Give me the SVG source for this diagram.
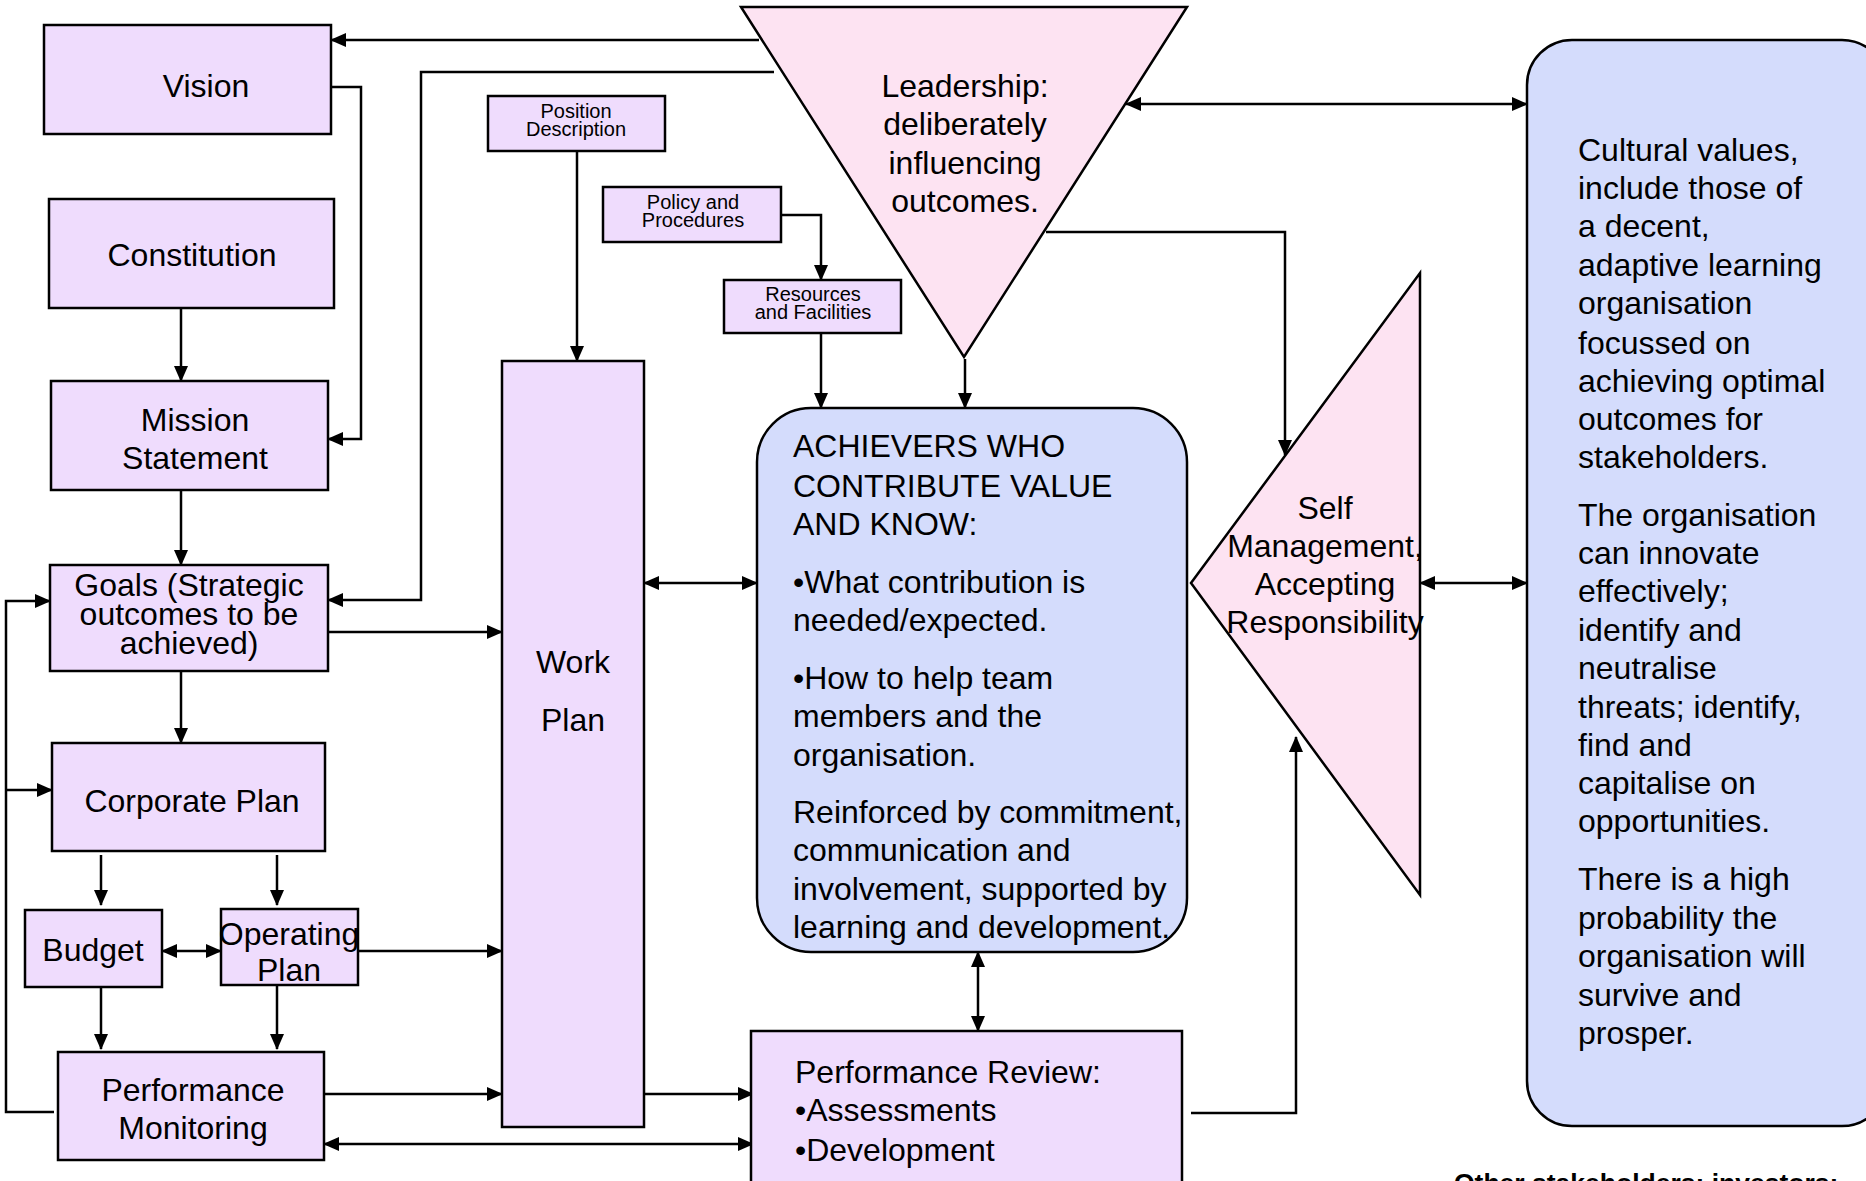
<svg xmlns="http://www.w3.org/2000/svg" width="1866" height="1181" viewBox="0 0 1866 1181">
<style>
.box{fill:#EFDCFD;stroke:#000;stroke-width:2.5}
.tri{fill:#FDE3F2;stroke:#000;stroke-width:2.5}
.blue{fill:#D4DCFC;stroke:#000;stroke-width:2.5}
text{font-family:"Liberation Sans",Arial,sans-serif;fill:#000}
.t32{font-size:32px}
.c{text-anchor:middle}
.sm{font-size:20px}
.bold{font-size:26.5px;font-weight:bold}
.ln{fill:none;stroke:#000;stroke-width:2.5}
</style>
<defs>
<marker id="ah" markerUnits="userSpaceOnUse" markerWidth="16" markerHeight="14" refX="15" refY="7" orient="auto-start-reverse" viewBox="0 0 16 14">
<path d="M0,0 L16,7 L0,14 z" fill="#000"/>
</marker>
</defs>
<rect width="1866" height="1181" fill="#fff"/>

<g id="connectors">
<path class="ln" d="M759,40 H331" marker-end="url(#ah)"/>
<path class="ln" d="M774,72 H421 V600 H328" marker-end="url(#ah)"/>
<path class="ln" d="M331,87 H361 V439 H328" marker-end="url(#ah)"/>
<path class="ln" d="M181,308 V381" marker-end="url(#ah)"/>
<path class="ln" d="M181,490 V565" marker-end="url(#ah)"/>
<path class="ln" d="M181,671 V743" marker-end="url(#ah)"/>
<path class="ln" d="M328,632 H502" marker-end="url(#ah)"/>
<path class="ln" d="M101,855 V905" marker-end="url(#ah)"/>
<path class="ln" d="M277,855 V905" marker-end="url(#ah)"/>
<path class="ln" d="M162,951 H221" marker-start="url(#ah)" marker-end="url(#ah)"/>
<path class="ln" d="M358,951 H502" marker-end="url(#ah)"/>
<path class="ln" d="M101,987 V1049" marker-end="url(#ah)"/>
<path class="ln" d="M277,985 V1049" marker-end="url(#ah)"/>
<path class="ln" d="M54,1112 H6 V601 H50" marker-end="url(#ah)"/>
<path class="ln" d="M6,790 H52" marker-end="url(#ah)"/>
<path class="ln" d="M324,1094 H502" marker-end="url(#ah)"/>
<path class="ln" d="M644,1094 H753" marker-end="url(#ah)"/>
<path class="ln" d="M324,1144 H753" marker-start="url(#ah)" marker-end="url(#ah)"/>
<path class="ln" d="M577,151 V361" marker-end="url(#ah)"/>
<path class="ln" d="M781,215 H821 V280" marker-end="url(#ah)"/>
<path class="ln" d="M821,333 V408" marker-end="url(#ah)"/>
<path class="ln" d="M965,359 V408" marker-end="url(#ah)"/>
<path class="ln" d="M644,583 H757" marker-start="url(#ah)" marker-end="url(#ah)"/>
<path class="ln" d="M1126,104 H1527" marker-start="url(#ah)" marker-end="url(#ah)"/>
<path class="ln" d="M1046,232 H1285 V455" marker-end="url(#ah)"/>
<path class="ln" d="M1420,583 H1527" marker-start="url(#ah)" marker-end="url(#ah)"/>
<path class="ln" d="M1191,1113 H1296 V737" marker-end="url(#ah)"/>
<path class="ln" d="M978,952 V1031" marker-start="url(#ah)" marker-end="url(#ah)"/>
</g>

<g id="vision"><rect class="box" x="44" y="25" width="287" height="109"/>
<text class="t32 c" x="206" y="97">Vision</text></g>

<g id="constitution"><rect class="box" x="49" y="199" width="285" height="109"/>
<text class="t32 c" x="192" y="266">Constitution</text></g>

<g id="mission"><rect class="box" x="51" y="381" width="277" height="109"/>
<text class="t32 c" x="195" y="431">Mission</text>
<text class="t32 c" x="195" y="469">Statement</text></g>

<g id="goals"><rect class="box" x="50" y="565" width="278" height="106"/>
<text class="t32 c" x="189" y="596">Goals (Strategic</text>
<text class="t32 c" x="189" y="625">outcomes to be</text>
<text class="t32 c" x="189" y="654">achieved)</text></g>

<g id="corporate"><rect class="box" x="52" y="743" width="273" height="108"/>
<text class="t32 c" x="192" y="812">Corporate Plan</text></g>

<g id="budget"><rect class="box" x="25" y="910" width="137" height="77"/>
<text class="t32 c" x="93" y="961">Budget</text></g>

<g id="operating"><rect class="box" x="221" y="909" width="137" height="76"/>
<text class="t32 c" x="289" y="945">Operating</text>
<text class="t32 c" x="289" y="981">Plan</text></g>

<g id="perfmon"><rect class="box" x="58" y="1052" width="266" height="108"/>
<text class="t32 c" x="193" y="1101">Performance</text>
<text class="t32 c" x="193" y="1139">Monitoring</text></g>

<g id="position"><rect class="box" x="488" y="96" width="177" height="55"/>
<text class="sm c" x="576" y="118">Position</text>
<text class="sm c" x="576" y="136">Description</text></g>

<g id="policy"><rect class="box" x="603" y="187" width="178" height="55"/>
<text class="sm c" x="693" y="209">Policy and</text>
<text class="sm c" x="693" y="227">Procedures</text></g>

<g id="resources"><rect class="box" x="724" y="280" width="177" height="53"/>
<text class="sm c" x="813" y="301">Resources</text>
<text class="sm c" x="813" y="319">and Facilities</text></g>

<g id="workplan"><rect class="box" x="502" y="361" width="142" height="766"/>
<text class="t32 c" x="573" y="673">Work</text>
<text class="t32 c" x="573" y="731">Plan</text></g>

<g id="leadership"><polygon class="tri" points="741,7 1187,7 964,357"/>
<text class="t32 c" x="965" y="97">Leadership:</text>
<text class="t32 c" x="965" y="135">deliberately</text>
<text class="t32 c" x="965" y="174">influencing</text>
<text class="t32 c" x="965" y="212">outcomes.</text></g>

<g id="achievers"><rect class="blue" x="757" y="408" width="430" height="544" rx="54" ry="54"/>
<text class="t32" x="793" y="457">ACHIEVERS WHO</text>
<text class="t32" x="793" y="497">CONTRIBUTE VALUE</text>
<text class="t32" x="793" y="535">AND KNOW:</text>
<text class="t32" x="793" y="593">•What contribution is</text>
<text class="t32" x="793" y="631">needed/expected.</text>
<text class="t32" x="793" y="689">•How to help team</text>
<text class="t32" x="793" y="727">members and the</text>
<text class="t32" x="793" y="766">organisation.</text>
<text class="t32" x="793" y="823">Reinforced by commitment,</text>
<text class="t32" x="793" y="861">communication and</text>
<text class="t32" x="793" y="900">involvement, supported by</text>
<text class="t32" x="793" y="938">learning and development.</text></g>

<g id="selfmgmt"><polygon class="tri" points="1191,583 1420,273 1420,895"/>
<text class="t32 c" x="1325" y="519">Self</text>
<text class="t32 c" x="1325" y="557">Management,</text>
<text class="t32 c" x="1325" y="595">Accepting</text>
<text class="t32 c" x="1325" y="633">Responsibility</text></g>

<g id="cultural"><rect class="blue" x="1527" y="40" width="360" height="1086" rx="45" ry="45"/>
<text class="t32" x="1578" y="161">Cultural values,</text>
<text class="t32" x="1578" y="199">include those of</text>
<text class="t32" x="1578" y="237">a decent,</text>
<text class="t32" x="1578" y="276">adaptive learning</text>
<text class="t32" x="1578" y="314">organisation</text>
<text class="t32" x="1578" y="354">focussed on</text>
<text class="t32" x="1578" y="392">achieving optimal</text>
<text class="t32" x="1578" y="430">outcomes for</text>
<text class="t32" x="1578" y="468">stakeholders.</text>
<text class="t32" x="1578" y="526">The organisation</text>
<text class="t32" x="1578" y="564">can innovate</text>
<text class="t32" x="1578" y="602">effectively;</text>
<text class="t32" x="1578" y="641">identify and</text>
<text class="t32" x="1578" y="679">neutralise</text>
<text class="t32" x="1578" y="718">threats; identify,</text>
<text class="t32" x="1578" y="756">find and</text>
<text class="t32" x="1578" y="794">capitalise on</text>
<text class="t32" x="1578" y="832">opportunities.</text>
<text class="t32" x="1578" y="890">There is a high</text>
<text class="t32" x="1578" y="929">probability the</text>
<text class="t32" x="1578" y="967">organisation will</text>
<text class="t32" x="1578" y="1006">survive and</text>
<text class="t32" x="1578" y="1044">prosper.</text></g>

<g id="perfreview"><rect class="box" x="751" y="1031" width="431" height="170"/>
<text class="t32" x="795" y="1083">Performance Review:</text>
<text class="t32" x="795" y="1121">•Assessments</text>
<text class="t32" x="795" y="1161">•Development</text></g>

<g id="stakeholders"><text class="bold" x="1454" y="1192">Other stakeholders: investors;</text></g>
</svg>
